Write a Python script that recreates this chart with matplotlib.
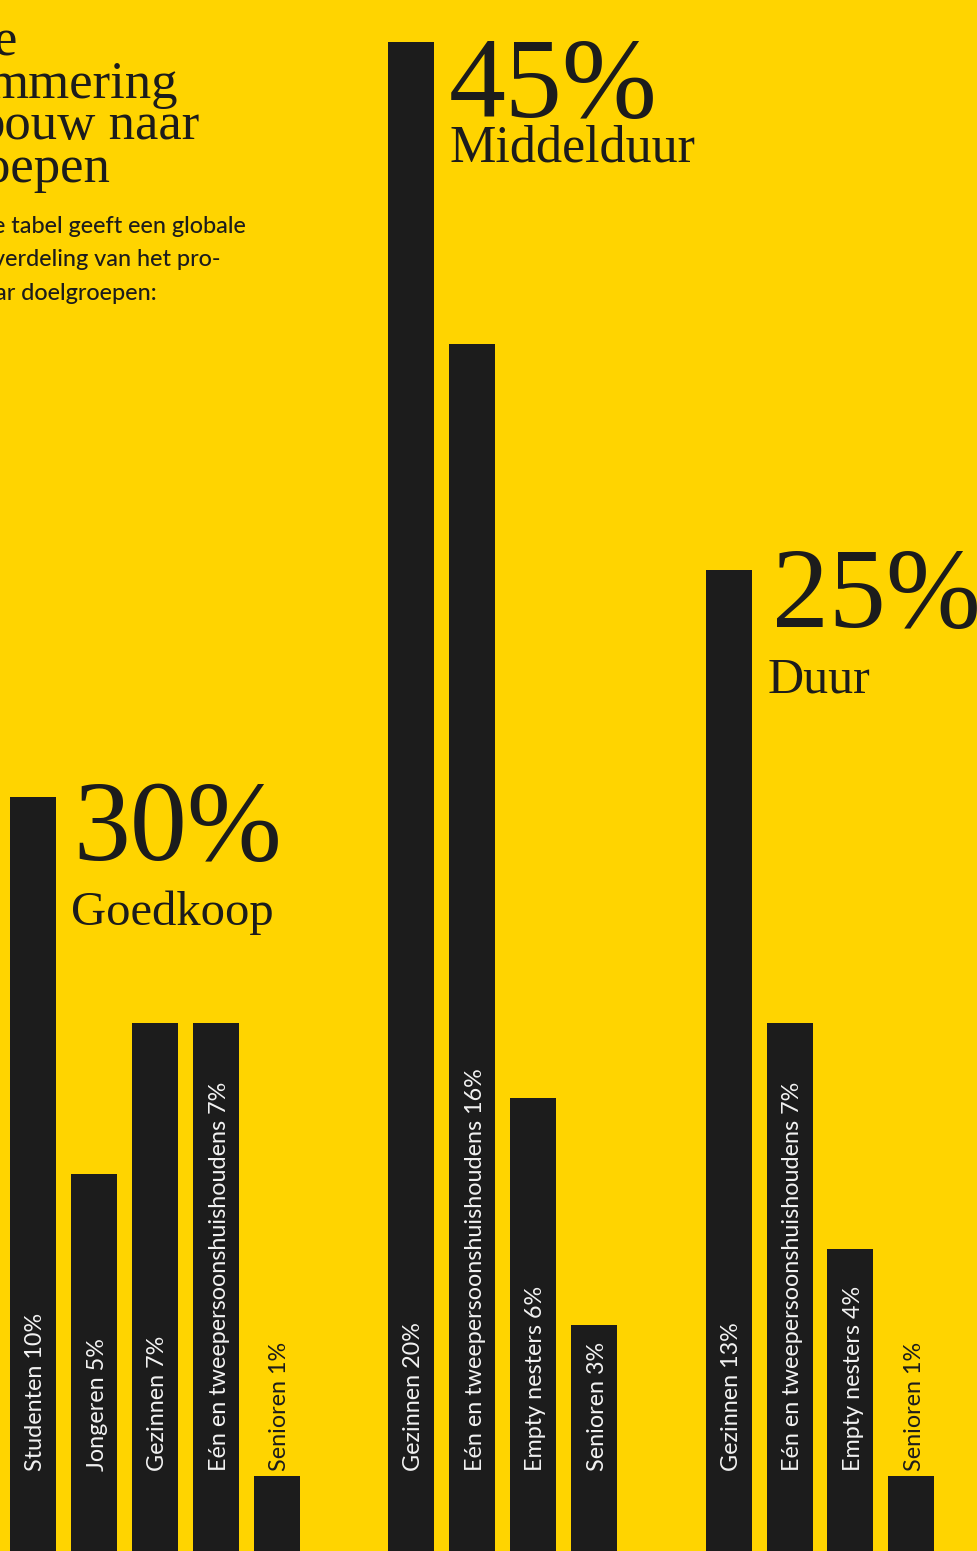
import matplotlib
matplotlib.use("Agg")
import matplotlib.pyplot as plt

# ---- data ----
group_titles = ["Goedkoop", "Middelduur", "Duur"]
group_totals = [30, 45, 25]
goedkoop_cats = ["Studenten", "Jongeren", "Gezinnen", "Eén en tweepersoonshuishoudens", "Senioren"]
goedkoop_vals = [10, 5, 7, 7, 1]
middelduur_cats = ["Gezinnen", "Eén en tweepersoonshuishoudens", "Empty nesters", "Senioren"]
middelduur_vals = [20, 16, 6, 3]
duur_cats = ["Gezinnen", "Eén en tweepersoonshuishoudens", "Empty nesters", "Senioren"]
duur_vals = [13, 7, 4, 1]
title_fragments = ["e", "mmering", "bouw naar", "oepen"]
intro_fragments = ["e tabel geeft een globale", "verdeling van het pro-", "ar doelgroepen:"]

# ---- style ----
W, H = 978, 1551
YELLOW = "#FFD400"
DARK = "#1C1C1C"
LIGHT = "#F2F2F2"
PX_PER_PCT = 75.45
SERIF = ["Liberation Serif", "DejaVu Serif"]
SANS = ["Lato", "DejaVu Sans"]

fig = plt.figure(figsize=(W / 100, H / 100), dpi=100, facecolor=YELLOW)
ax = fig.add_axes([0, 0, 1, 1])
ax.set_facecolor(YELLOW)
ax.set_xlim(0, W)
ax.set_ylim(0, H / PX_PER_PCT)
ax.axis("off")


def fy(y_px):
    """pixel from top -> figure fraction"""
    return 1 - y_px / H


groups = [
    (goedkoop_cats, goedkoop_vals, 10, 61),
    (middelduur_cats, middelduur_vals, 388, 61),
    (duur_cats, duur_vals, 706, 60.7),
]
bar_w = 46
label_base = (H - 1471) / PX_PER_PCT

for cats, vals, x0, step in groups:
    lefts = [x0 + i * step for i in range(len(vals))]
    ax.bar(lefts, vals, width=bar_w, align="edge", color=DARK, linewidth=0)
    for left, c, v in zip(lefts, cats, vals):
        col = LIGHT if v >= 2 else DARK
        ax.text(left + bar_w / 2 + 1, label_base, f"{c} {v}%", rotation=90,
                rotation_mode="anchor", ha="left", va="center_baseline",
                fontsize=16.8, color=col, family=SANS)

# big totals and group names
num_pos = [(73, 860), (449, 117), (772, 627)]
name_pos = [(71, 925), (450, 162), (768, 692)]
name_sizes = [35, 37.5, 36]
for t, tot, (nx, ny), (gx, gy), fs in zip(group_titles, group_totals, num_pos, name_pos, name_sizes):
    fig.text(nx / W, fy(ny), f"{tot}%", fontsize=82, color=DARK, family=SERIF,
             ha="left", va="baseline")
    fig.text(gx / W, fy(gy), t, fontsize=fs, color=DARK, family=SERIF,
             ha="left", va="baseline")

# cut-off title at top-left (as in the source page)
title_ends = [17, 178, 199, 110]
title_base = [55, 98, 139, 182]
for s, xe, yb in zip(title_fragments, title_ends, title_base):
    fig.text(xe / W, fy(yb), s, fontsize=38, color=DARK, family=SERIF,
             ha="right", va="baseline")

intro_ends = [246, 221, 157]
intro_base = [233, 266, 300]
for s, xe, yb in zip(intro_fragments, intro_ends, intro_base):
    fig.text(xe / W, fy(yb), s, fontsize=16.8, color=DARK, family=SANS,
             weight="medium", ha="right", va="baseline")

fig.savefig("out.png", dpi=100, facecolor=YELLOW)
